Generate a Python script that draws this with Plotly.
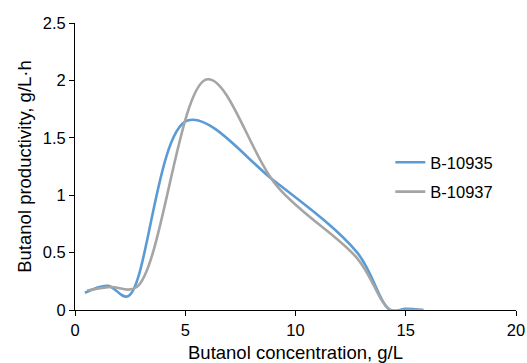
import plotly.graph_objects as go

b10935_x = [0.45, 1.5, 2.4, 5.1, 9.0, 12.8, 14.3, 15.0, 15.8]
b10935_y = [0.15, 0.21, 0.12, 1.65, 1.13, 0.50, 0.0, 0.01, 0.0]
b10937_x = [0.55, 1.6, 2.8, 6.0, 9.2, 12.8, 14.3, 15.0, 15.8]
b10937_y = [0.17, 0.2, 0.2, 2.01, 1.07, 0.45, 0.0, 0.0, 0.0]

x_ticks = [0, 5, 10, 15, 20]
y_ticks = [0, 0.5, 1, 1.5, 2, 2.5]
y_tick_text = ["0", "0.5", "1", "1.5", "2", "2.5"]

FONT = "Liberation Sans, Arial, sans-serif"

fig = go.Figure()
fig.add_trace(go.Scatter(x=b10935_x, y=b10935_y, mode="lines", name="B-10935", legendgroup="a",
                         line=dict(color="#5B9BD5", width=2.6, shape="spline", smoothing=1.0)))
fig.add_trace(go.Scatter(x=b10937_x, y=b10937_y, mode="lines", name="B-10937", legendgroup="b",
                         line=dict(color="#A5A5A5", width=2.6, shape="spline", smoothing=1.0)))

fig.update_layout(
    width=527, height=363,
    margin=dict(l=75, r=11, t=23, b=53, autoexpand=False),
    paper_bgcolor="white", plot_bgcolor="white",
    font=dict(family=FONT, size=16.5, color="black"),
    showlegend=True,
    legend=dict(x=0.715, y=0.575, xanchor="left", yanchor="top", traceorder="grouped",
                bgcolor="rgba(0,0,0,0)", font=dict(size=16.5), tracegroupgap=5),
    xaxis=dict(range=[0, 20], tickvals=x_ticks, showgrid=False, zeroline=False,
               showline=True, linecolor="black", linewidth=1, automargin=False,
               ticks="outside", ticklen=5, tickcolor="black", tickfont=dict(size=16.5),
               title=dict(text="Butanol concentration, g/L", font=dict(size=18.5), standoff=13)),
    yaxis=dict(range=[0, 2.5], tickvals=y_ticks, ticktext=y_tick_text, showgrid=False, zeroline=False,
               showline=True, linecolor="black", linewidth=1, automargin=False,
               ticks="outside", ticklen=5, tickcolor="black", tickfont=dict(size=16.5),
               title=dict(text="Butanol productivity, g/L·h", font=dict(size=18.5), standoff=6)),
)

fig.write_html("out.html", config={"displayModeBar": False},
               post_script="document.body.style.margin='0';document.body.style.overflow='hidden';")
